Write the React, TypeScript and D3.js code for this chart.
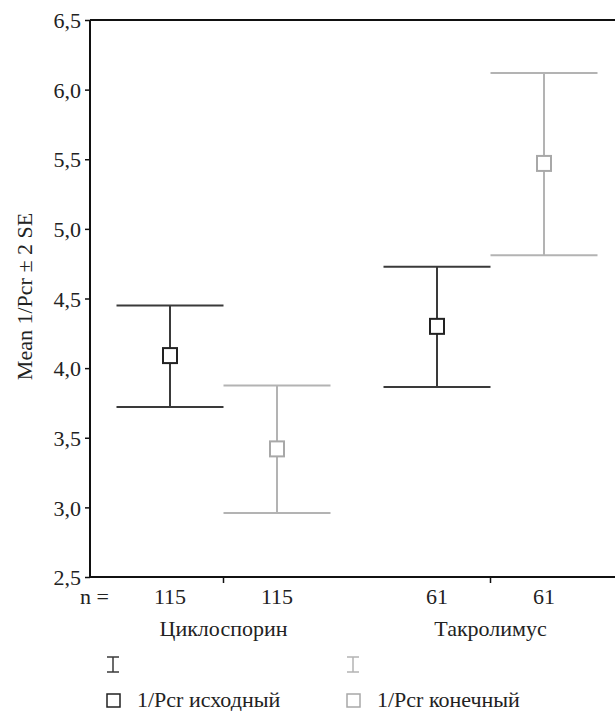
import React from "react";
import * as d3 from "d3";

// groups on the x axis, and the two measurements within each group
const groups = ["Циклоспорин", "Такролимус"];
const series = ["1/Pcr исходный", "1/Pcr конечный"];
const counts = [
  [115, 115],
  [61, 61],
];
// mean, lower (mean - 2SE), upper (mean + 2SE)
const means = [
  [4.09, 3.42],
  [4.3, 5.47],
];
const lowers = [
  [3.72, 2.96],
  [3.865, 4.81],
];
const uppers = [
  [4.45, 3.875],
  [4.728, 6.12],
];
const yTicks = [2.5, 3.0, 3.5, 4.0, 4.5, 5.0, 5.5, 6.0, 6.5];
const yTitle = "Mean 1/Pcr ± 2 SE";

const colors = ["#3a3a3a", "#b3b3b3"];
const boxColors = ["#222222", "#a8a8a8"];

const App = () => {
  const svgRef = React.useRef<SVGSVGElement>(null);
  const width = 615;
  const height = 711;
  const margin = { top: 20, right: -9, bottom: 134, left: 90 };
  const font = "Liberation Serif";

  React.useEffect(() => {
    drawChart();
  }, []);

  const drawChart = () => {
    const svg = d3.select(svgRef.current);
    svg.selectAll("*").remove();

    const x = d3
      .scaleBand()
      .domain(groups)
      .range([margin.left, width - margin.right]);
    const inner = d3.scaleBand().domain(series).range([-107, 107]);
    const y = d3
      .scaleLinear()
      .domain([2.5, 6.5])
      .range([height - margin.bottom, margin.top]);

    // frame: left, top, bottom lines
    const frame = svg.append("g").attr("stroke", "#111").attr("stroke-width", 2);
    frame
      .append("line")
      .attr("x1", margin.left)
      .attr("x2", margin.left)
      .attr("y1", y(6.5))
      .attr("y2", y(2.5));
    frame
      .append("line")
      .attr("x1", margin.left)
      .attr("x2", width)
      .attr("y1", y(6.5))
      .attr("y2", y(6.5));
    frame
      .append("line")
      .attr("x1", margin.left)
      .attr("x2", width)
      .attr("y1", y(2.5))
      .attr("y2", y(2.5));

    // y axis
    const yAxis = svg
      .append("g")
      .attr("transform", `translate(${margin.left},0)`)
      .call(
        d3
          .axisLeft(y)
          .tickValues(yTicks)
          .tickSize(5)
          .tickPadding(4)
          .tickFormat((d) => d3.format(".1f")(d as number).replace(".", ","))
      );
    yAxis.attr("font-family", font).attr("font-size", 22);
    yAxis.select(".domain").remove();
    yAxis.selectAll("line").attr("stroke", "#111").attr("stroke-width", 1.5);
    yAxis.selectAll("text").attr("fill", "#222").attr("dy", "0.35em");

    // x axis ticks at group centres
    const xAxis = svg
      .append("g")
      .attr("transform", `translate(0,${y(2.5)})`)
      .call(d3.axisBottom(x).tickSize(6).tickFormat(() => ""));
    xAxis.select(".domain").remove();
    xAxis.selectAll("line").attr("stroke", "#111").attr("stroke-width", 1.5);

    const label = (tx: number, ty: number, t: string | number, anchor = "start") =>
      svg
        .append("text")
        .attr("x", tx)
        .attr("y", ty)
        .attr("text-anchor", anchor)
        .attr("font-family", font)
        .attr("font-size", 22)
        .attr("fill", "#222")
        .text(t);

    // error bars
    groups.forEach((g, gi) => {
      const cx = x(g)! + x.bandwidth() / 2;
      series.forEach((s, si) => {
        const sx = cx + inner(s)! + inner.bandwidth() / 2;
        const bar = svg
          .append("g")
          .attr("stroke", colors[si])
          .attr("stroke-width", 2)
          .attr("fill", "none");
        bar
          .append("line")
          .attr("x1", sx)
          .attr("x2", sx)
          .attr("y1", y(uppers[gi][si]))
          .attr("y2", y(lowers[gi][si]));
        [uppers[gi][si], lowers[gi][si]].forEach((v) => {
          bar
            .append("line")
            .attr("x1", cx + inner(s)!)
            .attr("x2", cx + inner(s)! + inner.bandwidth())
            .attr("y1", y(v))
            .attr("y2", y(v));
        });
        bar
          .append("rect")
          .attr("x", sx - 7)
          .attr("y", y(means[gi][si]) - 7.5)
          .attr("width", 14)
          .attr("height", 15)
          .attr("fill", "white")
          .attr("stroke", boxColors[si]);

        label(sx, 604, counts[gi][si], "middle");
      });

      label(cx, 636, g, "middle");
    });

    label(80, 604, "n =");

    // y title
    svg
      .append("text")
      .attr("transform", `translate(32,${(y(6.5) + y(2.5)) / 2 - 2}) rotate(-90)`)
      .attr("text-anchor", "middle")
      .attr("font-family", font)
      .attr("font-size", 22)
      .attr("fill", "#222")
      .text(yTitle);

    // legend
    const legendX = [113, 353];
    series.forEach((s, si) => {
      const lx = legendX[si];
      const ib = svg
        .append("g")
        .attr("stroke", colors[si])
        .attr("stroke-width", 1.5)
        .attr("fill", "none");
      ib.append("line").attr("x1", lx).attr("x2", lx).attr("y1", 657).attr("y2", 672);
      ib.append("line").attr("x1", lx - 6).attr("x2", lx + 6).attr("y1", 657).attr("y2", 657);
      ib.append("line").attr("x1", lx - 6).attr("x2", lx + 6).attr("y1", 672).attr("y2", 672);

      svg
        .append("rect")
        .attr("x", lx - 6)
        .attr("y", 694)
        .attr("width", 13)
        .attr("height", 13)
        .attr("fill", "white")
        .attr("stroke", boxColors[si])
        .attr("stroke-width", 1.5);

      label(lx + 24, 707, s);
    });
  };

  return (
    <svg
      ref={svgRef}
      width={width}
      height={height}
      style={{ position: "absolute", left: 0, top: 0, background: "white" }}
    />
  );
};

export default App;
